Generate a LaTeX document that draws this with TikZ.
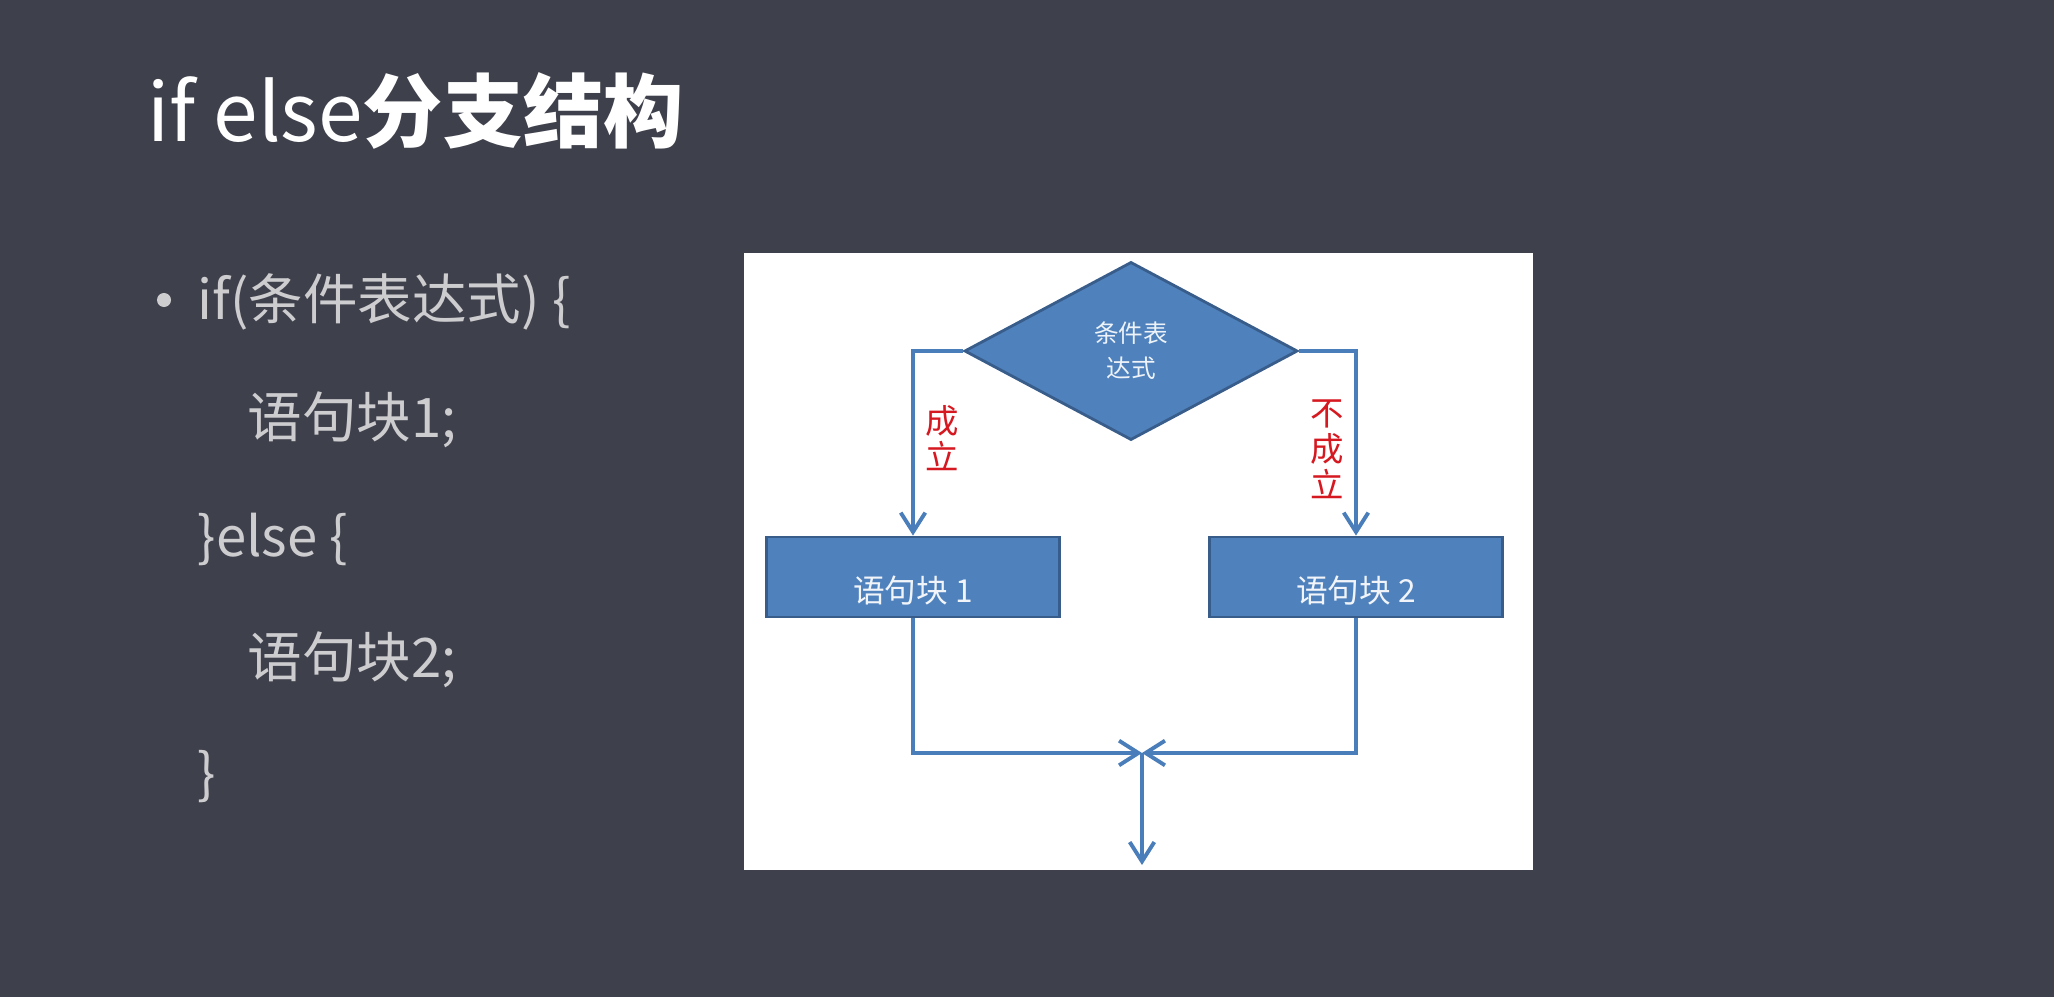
\documentclass[tikz,border=0pt]{standalone}
\usepackage{fontspec}
\setmainfont{Noto Sans CJK SC}
\usetikzlibrary{shapes.geometric,arrows.meta}

\definecolor{slidebg}{RGB}{62,64,75}
\definecolor{slidetext}{RGB}{205,205,208}
\definecolor{chartblue}{RGB}{79,129,189}
\definecolor{chartedge}{RGB}{56,93,138}
\definecolor{chartline}{RGB}{74,126,187}
\definecolor{branchred}{RGB}{214,24,32}

\tikzset{
  decision/.style={diamond, fill=chartblue, draw=chartedge, line width=0.8pt,
    minimum width=3.33cm, minimum height=1.78cm, inner sep=0pt,
    text=white!90!chartblue, font=\fontsize{7}{10}\selectfont, align=center},
  block/.style={rectangle, fill=chartblue, draw=chartedge, line width=0.8pt,
    minimum width=2.93cm, minimum height=0.8cm, text=white!92!chartblue,
    text height=0.5cm, text depth=0pt, font=\fontsize{9}{11}\selectfont},
  flow/.style={draw=chartline, line width=1.1pt,
    -{Straight Barb[length=5.5pt,width=7pt]}},
  branch/.style={text=branchred, font=\fontsize{9.5}{10.3}\selectfont,
    align=center, inner sep=0pt},
  codeline/.style={text=slidetext, font=\fontsize{15.5}{18}\selectfont,
    anchor=base west, inner sep=0pt}
}

\begin{document}
\begin{tikzpicture}[x=0.01cm, y=-0.01cm]
  % Slide
  \fill[slidebg] (0,0) rectangle (2054,997);
  \useasboundingbox (0,0) rectangle (2054,997);

  % Title
  \node[anchor=base west, inner sep=0pt, text=white,
    font=\fontsize{22.8}{26}\selectfont]
    (title) at (147,142) {if else\textbf{分支结构}};

  % Code
  \node[circle, fill=slidetext, inner sep=0pt, minimum size=0.14cm]
    (dot) at (164,300) {};
  \node[codeline] (line1) at (197,320) {if(条件表达式) \{};
  \node[codeline] (line2) at (247,437) {语句块1;};
  \node[codeline] (line3) at (197,556) {\}else \{};
  \node[codeline] (line4) at (247,677) {语句块2;};
  \node[codeline] (line5) at (197,793) {\}};

  % Chart panel
  \fill[white] (744,253) rectangle (1533,870);

  \node[decision] (cond) at (1131,351) {条件表\\达式};
  \node[block] (blockA) at (913,577) {语句块 1};
  \node[block] (blockB) at (1356,577) {语句块 2};
  \coordinate (merge) at (1142,753);
  \coordinate (exit) at (1142,865);

  \draw[flow] (cond.west) -| (blockA.north);
  \draw[flow] (cond.east) -| (blockB.north);
  \draw[flow] (blockA.south) |- (merge);
  \draw[flow] (blockB.south) |- (merge);
  \draw[flow] (merge) -- (exit);

  % Branch labels
  \node[branch] (yes) at (942,438) {成\\立};
  \node[branch] (no) at (1327,449) {不\\成\\立};

\end{tikzpicture}
\end{document}
